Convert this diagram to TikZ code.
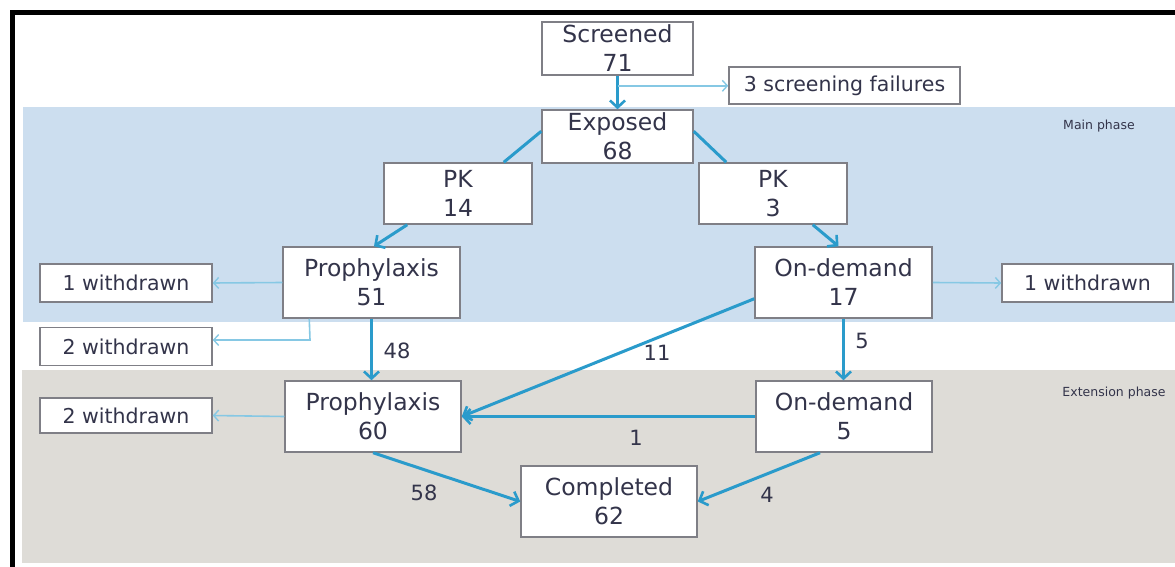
\documentclass[tikz,border=0pt]{standalone}
\usepackage{fontspec}
\setmainfont{DejaVu Sans}
\usetikzlibrary{arrows.meta,calc}
\definecolor{bandblue}{HTML}{CCDEEF}
\definecolor{bandgray}{HTML}{DEDCD7}
\definecolor{boxgray}{HTML}{7F7F86}
\definecolor{txt}{HTML}{33344A}
\definecolor{flow}{HTML}{2A9BCB}
\definecolor{flowlight}{HTML}{86C8E4}
\newcommand\bigfnt{\fontsize{23.5}{29}\selectfont}
\newcommand\smallfnt{\fontsize{20.5}{24}\selectfont}
\newcommand\lblfnt{\fontsize{21}{24}\selectfont}
\newcommand\phasefnt{\fontsize{12.5}{15}\selectfont}
\begin{document}
\begin{tikzpicture}[x=1pt,y=-1pt,
  bigbox/.style={draw=boxgray, fill=white, line width=1.5pt, inner sep=0pt, align=center, font=\bigfnt, text=txt},
  smallbox/.style={draw=boxgray, fill=white, line width=1.5pt, inner sep=0pt, align=center, font=\smallfnt, text=txt, minimum width=172pt, minimum height=38pt},
  flowarrow/.style={draw=flow, line width=3pt, -{Straight Barb[length=7pt,width=15pt,line width=2.6pt]}},
  flowline/.style={draw=flow, line width=3pt},
  lightarrow/.style={draw=flowlight, line width=1.6pt, -{Straight Barb[length=5pt,width=11pt,line width=1.4pt]}},
  lightline/.style={draw=flowlight, line width=1.6pt},
  countlbl/.style={font=\lblfnt, text=txt, inner sep=0pt},
  phaselbl/.style={font=\phasefnt, text=txt, inner sep=0pt}]
\useasboundingbox (0,0) rectangle (1175,567);
\fill[white] (0,0) rectangle (1175,567);
\fill[bandblue] (23,107) rectangle (1175,322);
\fill[bandgray] (22,370) rectangle (1175,563);
\draw[line width=5pt, black] (12.5,567) -- (12.5,12.5) -- (1175,12.5);

\node[phaselbl] (mainph) at (1099,126) {Main phase};
\node[phaselbl] (extph) at (1114,393) {Extension phase};

\node[bigbox, minimum width=151pt, minimum height=53pt] (scr) at (617.5,48.5) {Screened\\71};
\node[smallbox, minimum width=231pt, minimum height=37pt] (fail) at (844.5,85.5) {3 screening failures};
\node[bigbox, minimum width=151pt, minimum height=53pt] (exp) at (617.5,136.5) {Exposed\\68};
\node[bigbox, minimum width=148pt, minimum height=61pt] (pk1) at (458,193.5) {PK\\14};
\node[bigbox, minimum width=148pt, minimum height=61pt] (pk2) at (773,193.5) {PK\\3};
\node[bigbox, minimum width=177pt, minimum height=71pt] (pro1) at (371.5,282.5) {Prophylaxis\\51};
\node[bigbox, minimum width=177pt, minimum height=71pt] (od1) at (843.5,282.5) {On-demand\\17};
\node[smallbox] (w1) at (126,283) {1 withdrawn};
\node[smallbox] (w2) at (126,346.5) {2 withdrawn};
\node[smallbox, minimum width=171pt] (w3) at (1087.5,283) {1 withdrawn};
\node[bigbox, minimum width=176pt, minimum height=71pt] (pro2) at (373,416.5) {Prophylaxis\\60};
\node[bigbox, minimum width=176pt, minimum height=71pt] (od2) at (844,416.5) {On-demand\\5};
\node[smallbox, minimum height=35pt] (w4) at (126,415.5) {2 withdrawn};
\node[bigbox, minimum width=176pt, minimum height=71pt] (comp) at (609,501.5) {Completed\\62};

% screening
\draw[flowarrow] (scr.south) -- (exp.north);
\coordinate (fs) at ($(scr.south)!0.3!(exp.north)$);
\draw[lightarrow] (fs) -- (fail.west |- fs);
% exposed to PK
\draw[flowline] ($(exp.north west)+(0,22)$) -- ($(pk1.north east)+(-29,0)$);
\draw[flowline] ($(exp.north east)+(0,22)$) -- ($(pk2.north west)+(28,0)$);
% PK to arms
\draw[flowarrow] ($(pk1.south west)+(24,0)$) -- ($(pro1.north)+(2.5,0)$);
\draw[flowarrow] ($(pk2.south east)+(-35,0)$) -- ($(od1.north)+(-5,0)$);
% withdrawals main phase
\draw[lightarrow] (pro1.west) -- (w1.east);
\draw[lightarrow] (od1.east) -- (w3.west);
\coordinate (c2a) at ($(pro1.south west)+(27,0)$);
\coordinate (c2b) at (310,340);
\draw[lightarrow] (c2a) -- (c2b) -- (w2.east |- c2b);
% main to extension
\draw[flowarrow] (pro1.south) -- (pro1.south |- pro2.north);
\node[countlbl] (l48) at (397,351) {48};
\draw[flowarrow] (od1.south) -- (od1.south |- od2.north);
\node[countlbl] (l5) at (862,341) {5};
\draw[flowarrow] ($(od1.south west)+(0,-20)$) -- (pro2.east);
\node[countlbl] (l11) at (657,353) {11};
\draw[flowarrow] (od2.west) -- (pro2.east);
\node[countlbl] (l1) at (636,438) {1};
% extension withdrawals
\draw[lightarrow] (pro2.west) -- (w4.east);
% completion
\draw[flowarrow] (pro2.south) -- (comp.west);
\node[countlbl] (l58) at (424,493) {58};
\draw[flowarrow] ($(od2.south)+(-24,0)$) -- (comp.east);
\node[countlbl] (l4) at (767,495) {4};
\end{tikzpicture}
\end{document}
